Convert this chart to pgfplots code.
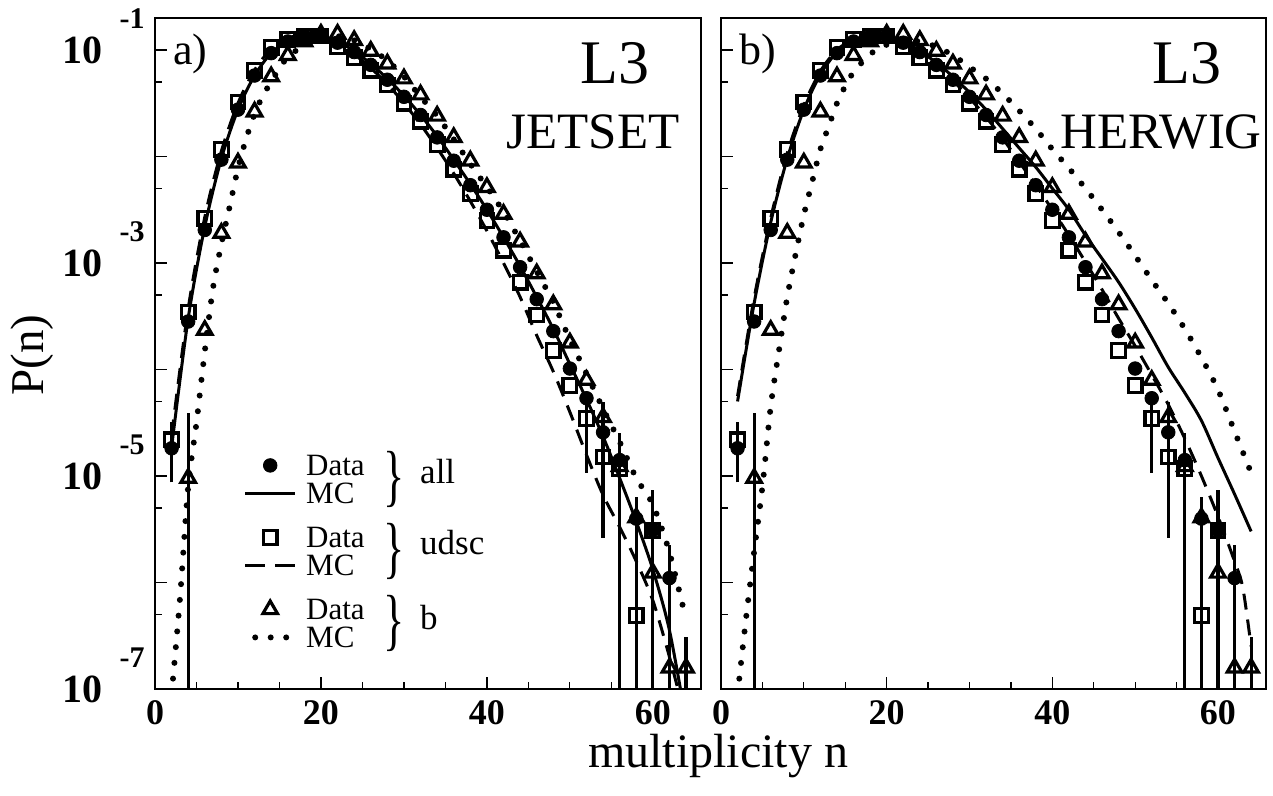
\documentclass[border=0pt]{standalone}
\usepackage{fontspec}
\setmainfont{Liberation Serif}
\usepackage{graphicx}
\usepackage{pgfplots}
\usepackage{pgfplotstable}
\pgfplotsset{compat=1.18}

% measured data (same points in both panels): n, P(n)
\pgfplotstableread{
n y
2 1.82e-5
4 2.82e-4
6 2.04e-3
8 9.33e-3
10 2.75e-2
12 5.75e-2
14 9.33e-2
16 1.20e-1
18 1.35e-1
20 1.35e-1
22 1.17e-1
24 9.55e-2
26 7.24e-2
28 5.25e-2
30 3.63e-2
32 2.45e-2
34 1.51e-2
36 9.12e-3
38 5.37e-3
40 3.16e-3
42 1.74e-3
44 9.12e-4
46 4.57e-4
48 2.29e-4
50 1.02e-4
52 5.37e-5
54 2.57e-5
56 1.41e-5
58 3.98e-6
60 3.09e-6
62 1.10e-6
}\dataall

\pgfplotstableread{
n y
2 2.19e-5
4 3.47e-4
6 2.63e-3
8 1.17e-2
10 3.24e-2
12 6.46e-2
14 1.05e-1
16 1.26e-1
18 1.35e-1
20 1.35e-1
22 1.07e-1
24 8.51e-2
26 6.46e-2
28 4.68e-2
30 3.16e-2
32 2.14e-2
34 1.29e-2
36 7.59e-3
38 4.47e-3
40 2.51e-3
42 1.32e-3
44 6.61e-4
46 3.24e-4
48 1.51e-4
50 7.08e-5
52 3.47e-5
54 1.51e-5
56 1.17e-5
58 4.90e-7
60 3.09e-6
}\dataudsc

\pgfplotstableread{
n y
4 9.55e-6
6 2.34e-4
8 1.91e-3
10 8.71e-3
12 2.63e-2
14 5.62e-2
16 8.91e-2
18 1.20e-1
20 1.41e-1
22 1.41e-1
24 1.23e-1
26 9.77e-2
28 7.41e-2
30 5.37e-2
32 3.80e-2
34 2.40e-2
36 1.51e-2
38 9.12e-3
40 5.13e-3
42 2.88e-3
44 1.58e-3
46 7.94e-4
48 4.07e-4
50 1.78e-4
52 7.94e-5
54 3.55e-5
56 1.23e-5
58 4.07e-6
60 1.23e-6
62 1.58e-7
64 1.58e-7
}\datab

% error bars: lower and upper end of each bar, nan rows break the line
\pgfplotstableread{
n y
2 8.7e-6
2 3.2e-5
nan nan
4 1e-9
4 3.9e-5
nan nan
52 1.07e-5
52 5.87e-5
nan nan
54 2.63e-6
54 4.9e-5
nan nan
56 1e-9
56 2.51e-5
nan nan
58 1e-9
58 6.3e-6
nan nan
60 1e-9
60 7.4e-6
nan nan
62 1e-9
62 2.24e-6
nan nan
64 1e-9
64 3.1e-7
}\errbars

% JETSET curves
\pgfplotstableread{
n y
2 1.86e-5
4 3.02e-4
6 2.19e-3
8 9.55e-3
10 2.75e-2
12 5.75e-2
14 9.33e-2
16 1.20e-1
18 1.35e-1
20 1.35e-1
22 1.20e-1
24 9.77e-2
26 7.41e-2
28 5.37e-2
30 3.72e-2
32 2.45e-2
34 1.55e-2
36 9.33e-3
38 5.50e-3
40 3.16e-3
42 1.74e-3
44 9.33e-4
46 4.79e-4
48 2.40e-4
50 1.12e-4
52 5.25e-5
54 2.34e-5
56 9.55e-6
58 3.72e-6
60 1.32e-6
62 3.55e-7
64 5.01e-8
}\jsall

\pgfplotstableread{
n y
2 2.40e-5
4 3.72e-4
6 2.69e-3
8 1.12e-2
10 3.16e-2
12 6.46e-2
14 1.02e-1
16 1.29e-1
18 1.38e-1
20 1.35e-1
22 1.15e-1
24 9.12e-2
26 6.76e-2
28 4.79e-2
30 3.16e-2
32 2.00e-2
34 1.20e-2
36 6.92e-3
38 3.80e-3
40 2.00e-3
42 1.00e-3
44 4.79e-4
46 2.09e-4
48 9.55e-5
50 3.98e-5
52 1.58e-5
54 6.61e-6
56 3.31e-6
58 1.58e-6
60 6.76e-7
62 2.00e-7
64 5.01e-8
}\jsudsc

\pgfplotstableread{
n y
2 8.91e-8
3 6.92e-7
4 7.94e-6
5 3.16e-5
6 1.48e-4
7 5.89e-4
8 1.51e-3
9 3.39e-3
10 7.76e-3
11 1.48e-2
12 2.51e-2
13 3.72e-2
14 5.01e-2
15 6.76e-2
16 8.51e-2
18 1.12e-1
20 1.32e-1
22 1.35e-1
24 1.23e-1
26 1.02e-1
28 7.94e-2
30 5.62e-2
32 3.63e-2
34 2.40e-2
36 1.45e-2
38 8.51e-3
40 5.13e-3
42 3.02e-3
44 1.62e-3
46 8.32e-4
48 4.27e-4
50 1.91e-4
52 9.12e-5
54 4.27e-5
56 2.09e-5
58 9.55e-6
60 5.37e-6
62 1.91e-6
64 4.47e-7
}\jsb

% HERWIG curves
\pgfplotstableread{
n y
2 5.01e-5
4 4.17e-4
6 2.40e-3
8 9.55e-3
10 2.75e-2
12 5.89e-2
14 9.55e-2
16 1.23e-1
18 1.35e-1
20 1.35e-1
22 1.20e-1
24 9.77e-2
26 7.59e-2
28 5.62e-2
30 3.98e-2
32 2.75e-2
34 1.82e-2
36 1.20e-2
38 7.94e-3
40 5.01e-3
42 3.16e-3
44 1.82e-3
46 1.10e-3
48 6.61e-4
50 3.72e-4
52 2.00e-4
54 1.05e-4
56 6.03e-5
58 3.31e-5
60 1.48e-5
62 6.76e-6
64 3.02e-6
}\hwall

\pgfplotstableread{
n y
2 5.62e-5
4 4.68e-4
6 2.63e-3
8 1.07e-2
10 3.02e-2
12 6.31e-2
14 1.00e-1
16 1.26e-1
18 1.38e-1
20 1.35e-1
22 1.17e-1
24 9.33e-2
26 7.08e-2
28 5.13e-2
30 3.55e-2
32 2.34e-2
34 1.48e-2
36 8.91e-3
38 5.37e-3
40 3.16e-3
42 1.82e-3
44 1.02e-3
46 5.62e-4
48 3.02e-4
50 1.66e-4
52 8.91e-5
54 4.68e-5
56 2.24e-5
58 1.00e-5
60 4.17e-6
62 1.58e-6
63 8.91e-7
64 2.51e-7
}\hwudsc

\pgfplotstableread{
n y
2 8.91e-8
3 4.47e-7
4 1.95e-6
5 7.94e-6
6 4.47e-5
7 1.51e-4
8 4.79e-4
9 1.20e-3
10 2.82e-3
11 5.75e-3
12 1.17e-2
13 1.91e-2
14 3.16e-2
15 4.57e-2
16 6.17e-2
18 9.12e-2
20 1.12e-1
22 1.23e-1
24 1.20e-1
26 1.07e-1
28 8.91e-2
30 6.92e-2
32 5.37e-2
34 3.89e-2
36 2.69e-2
38 1.82e-2
40 1.17e-2
42 7.76e-3
44 5.01e-3
46 3.16e-3
48 1.95e-3
50 1.17e-3
52 6.92e-4
54 4.17e-4
56 2.40e-4
58 1.29e-4
60 6.46e-5
62 2.63e-5
64 1.07e-5
}\hwb

\newcommand{\ylab}[1]{\textbf{10}\hspace{8.5pt}\smash{\raisebox{17.5pt}{\fontsize{15}{15}\selectfont\textbf{-#1}}}}
\newcommand{\grpbrace}{\scalebox{0.65}[1]{\fontsize{34}{34}\selectfont\}}}

\pgfplotsset{
  mcall/.style={black, line width=1.5pt, no markers, smooth, forget plot},
  mcudsc/.style={black, line width=1.5pt, no markers, smooth, dash pattern=on 8pt off 5pt, forget plot},
  mcb/.style={black, line width=3pt, no markers, smooth, line cap=round, dash pattern=on 0pt off 7.9pt, forget plot},
  ebar/.style={black, line width=1.6pt, no markers, unbounded coords=jump, forget plot},
  ptall/.style={black, only marks, mark=*, mark size=3.4pt},
  ptudsc/.style={black, only marks, mark=square, mark size=3.4pt, mark options={line width=1.6pt, solid}},
  ptb/.style={black, only marks, mark=triangle, mark size=4.2pt, mark options={line width=1.6pt, solid}},
}

\begin{document}
\begin{tikzpicture}
\useasboundingbox (0,0) rectangle (636.5pt,398pt);

% ---- a) JETSET ----
\begin{axis}[ymode=log,
    scale only axis, width=273pt, height=335.5pt,
    at={(77.5pt,53.5pt)}, anchor=south west,
    xmin=0, xmax=65.8, ymin=1e-7, ymax=0.1995,
    xtick={0,20,40,60}, minor x tick num=3,
    xticklabels={\textbf{0},\textbf{20},\textbf{40},\textbf{60}},
    ytick={1e-7,1e-6,1e-5,1e-4,1e-3,1e-2,1e-1},
    minor ytick={5e-7,5e-6,5e-5,5e-4,5e-3,5e-2},
    yticklabels={\ylab{7},{},\ylab{5},{},\ylab{3},{},\ylab{1}},
    xtick pos=left, ytick pos=left, tick align=inside,
    major tick length=6pt, minor tick length=3.3pt,
    tick style={black, line width=0.6pt},
    axis line style={line width=1pt},
    xticklabel style={font=\fontsize{18}{18}\selectfont, inner sep=0pt, yshift=-5.5pt},
    yticklabel style={font=\fontsize{20}{20}\selectfont, inner sep=0pt, xshift=-5pt},
    legend image code/.code={\draw[mark repeat=2,mark phase=2,#1] plot coordinates {(0pt,0pt) (12.5pt,0pt) (25pt,0pt)};},
    legend style={at={(axis description cs:0.159,0.3493)}, anchor=north west,
      draw=none, fill=none, inner sep=0pt, row sep=3.6pt, column sep=4pt,
      font=\fontsize{15.5}{15.5}\selectfont,
      nodes={inner sep=0pt, text height=10.4pt, text depth=0pt}},
    legend cell align=left]
\addlegendimage{ptall}\addlegendentry{Data}
\addlegendimage{black, line width=1.5pt}\addlegendentry{MC}
\addlegendimage{empty legend}\addlegendentry[text height=4.4pt]{}
\addlegendimage{ptudsc}\addlegendentry{Data}
\addlegendimage{black, line width=1.5pt, dash pattern=on 10pt off 5pt}\addlegendentry{MC}
\addlegendimage{empty legend}\addlegendentry[text height=4.4pt]{}
\addlegendimage{ptb}\addlegendentry{Data}
\addlegendimage{black, line width=3pt, line cap=round, dash pattern=on 0pt off 7.75pt, dash phase=2.75pt}\addlegendentry{MC}

\addplot[mcall] table[x=n,y=y] {\jsall};
\addplot[mcudsc] table[x=n,y=y] {\jsudsc};
\addplot[mcb] table[x=n,y=y] {\jsb};
\addplot[ebar] table[x=n,y=y] {\errbars};
\addplot[ptb, forget plot] table[x=n,y=y] {\datab};
\addplot[ptudsc, forget plot] table[x=n,y=y] {\dataudsc};
\addplot[ptall, forget plot] table[x=n,y=y] {\dataall};

\node[anchor=base west, inner sep=0pt, font=\fontsize{22}{22}\selectfont] at (axis description cs:0.033,0.930) {a)};
\node[anchor=base east, inner sep=0pt, font=\fontsize{31}{31}\selectfont] at (axis description cs:0.907,0.903) {L3};
\node[anchor=base east, inner sep=0pt, font=\fontsize{25.5}{25.5}\selectfont] at (axis description cs:0.9615,0.806) {JETSET};
\node[inner sep=0pt] at (axis description cs:0.438,0.313) {\grpbrace};
\node[inner sep=0pt] at (axis description cs:0.438,0.2057) {\grpbrace};
\node[inner sep=0pt] at (axis description cs:0.438,0.0984) {\grpbrace};
\node[anchor=base west, inner sep=0pt, font=\fontsize{17.5}{17.5}\selectfont] at (axis description cs:0.485,0.307) {all};
\node[anchor=base west, inner sep=0pt, font=\fontsize{17.5}{17.5}\selectfont] at (axis description cs:0.485,0.200) {udsc};
\node[anchor=base west, inner sep=0pt, font=\fontsize{17.5}{17.5}\selectfont] at (axis description cs:0.485,0.089) {b};
\end{axis}

% ---- b) HERWIG ----
\begin{axis}[ymode=log,
    scale only axis, width=272.5pt, height=335.5pt,
    at={(360.5pt,53.5pt)}, anchor=south west,
    xmin=0, xmax=65.8, ymin=1e-7, ymax=0.1995,
    xtick={0,20,40,60}, minor x tick num=3,
    xticklabels={\textbf{0},\textbf{20},\textbf{40},\textbf{60}},
    ytick={1e-7,1e-6,1e-5,1e-4,1e-3,1e-2,1e-1},
    minor ytick={5e-7,5e-6,5e-5,5e-4,5e-3,5e-2},
    yticklabels={},
    xtick pos=left, ytick pos=left, tick align=inside,
    major tick length=6pt, minor tick length=3.3pt,
    tick style={black, line width=0.6pt},
    axis line style={line width=1pt},
    xticklabel style={font=\fontsize{18}{18}\selectfont, inner sep=0pt, yshift=-5.5pt}]
\addplot[mcall] table[x=n,y=y] {\hwall};
\addplot[mcudsc] table[x=n,y=y] {\hwudsc};
\addplot[mcb] table[x=n,y=y] {\hwb};
\addplot[ebar] table[x=n,y=y] {\errbars};
\addplot[ptb, forget plot] table[x=n,y=y] {\datab};
\addplot[ptudsc, forget plot] table[x=n,y=y] {\dataudsc};
\addplot[ptall, forget plot] table[x=n,y=y] {\dataall};

\node[anchor=base west, inner sep=0pt, font=\fontsize{22}{22}\selectfont] at (axis description cs:0.033,0.931) {b)};
\node[anchor=base east, inner sep=0pt, font=\fontsize{31}{31}\selectfont] at (axis description cs:0.919,0.903) {L3};
\node[anchor=base east, inner sep=0pt, font=\fontsize{25.5}{25.5}\selectfont] at (axis description cs:0.993,0.806) {HERWIG};
\end{axis}

\node[rotate=90, font=\fontsize{23.5}{23.5}\selectfont] at (16pt,220.5pt) {P(n)};
\node[anchor=base, font=\fontsize{24}{24}\selectfont] at (359pt,14pt) {multiplicity n};
\end{tikzpicture}
\end{document}
